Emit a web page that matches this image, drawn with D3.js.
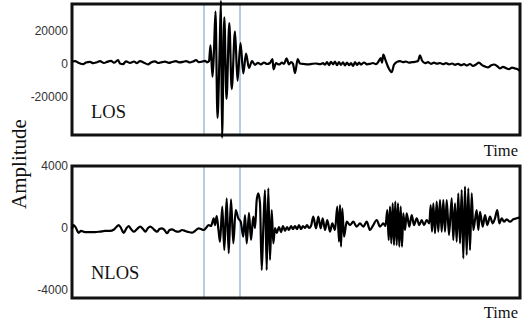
<!DOCTYPE html>
<html>
<head>
<meta charset="utf-8">
<script src="https://cdn.jsdelivr.net/npm/d3@7"></script>
<style>
  body { margin: 0; background: #fff; }
  svg { display: block; }
  .tick text { font-family: "Liberation Sans", Arial, sans-serif; font-size: 12px; fill: #333; }
  .lbl { font-family: "Liberation Serif", "Times New Roman", serif; fill: #111; }
</style>
</head>
<body>
<svg id="chart" width="522" height="323"></svg>
<script>
// time axis is sample index, amplitude in raw units
const timeRange = [0, 448];
const markerTimes = [132, 168];

const losTicks = [-20000, 0, 20000];
const nlosTicks = [-4000, 0, 4000];
const losDomain = [-43330, 36060];
const nlosDomain = [-4516, 4000];

// [time, amplitude]
const losSamples = [
  [0,1200],[3,1500],[7,300],[11,-400],[14,600],[18,1000],[21,200],[25,800],[28,1400],[32,300],
  [35,1000],[39,1600],[42,500],[46,2000],[48,0],[51,-400],[54,1300],[58,400],[62,1200],[65,200],
  [68,1500],[72,500],[76,-500],[79,600],[83,1300],[86,300],[90,800],[93,1100],[97,400],[100,900],
  [104,1400],[107,700],[111,1000],[114,1500],[118,600],[121,1200],[124,2000],[127,800],[130,1100],
  [133,1600],[135,700],[137,1500],[138.5,11000],[140.5,-8000],[142,8000],[143.5,31500],[145.5,-33000],
  [147.5,5000],[149,38000],[150,-45000],[152.3,28000],[154.5,-21500],[157.3,24500],[159.7,-15500],
  [163,19500],[165.5,-10500],[168.5,12400],[171.3,-6000],[174,6000],[177,-2700],[180,1500],[183,-800],
  [186,400],[189,-500],[192,600],[195,-300],[198,300],[200.5,2700],[201.5,-3500],[204,200],[207,-600],
  [210,500],[212,-300],[214.5,3100],[217,-500],[219,800],[221,-200],[223,-5800],[225.7,2700],[228,0],
  [232,-300],[236,-500],[240,-200],[244,0],[248,-400],[251,200],[253,-700],[255,800],[257,-1000],
  [259,1000],[261,-500],[263,1200],[265,-1000],[267,900],[269,-800],[271,700],[273,-1200],[275,600],
  [277,-1000],[279,300],[281,-1500],[283,800],[285,-900],[287,500],[289,-700],[292,600],[295,-500],
  [298,-200],[301,300],[304,-400],[306.5,1200],[308.7,3300],[310,500],[311.3,5400],[313.5,2000],
  [316,-2000],[319.7,-5300],[322,-800],[325,1000],[328,1500],[331,800],[334,1200],[337,500],[340,800],
  [343,1000],[346,1500],[348,5000],[350,1800],[353,200],[356,800],[359,-200],[362,500],[365,-100],
  [368,300],[371,-400],[374,200],[377,-500],[380,0],[383,-800],[386,-200],[389,-1000],[392,-400],
  [395,-1200],[398,-300],[401,-1500],[404,-600],[407,500],[410,-1000],[413,-1800],[416,-2300],
  [419,-1200],[422,-600],[425,-1500],[428,-3000],[431,-2000],[434,-2800],[437,-3400],[440,-2500],
  [443,-3000],[446,-3600],[448,-4500]
];

const nlosSamples = [
  [0,-65],[1.7,190],[4,0],[6.7,-320],[9,-190],[13,-260],[18,-260],[23,-260],[28,-230],[33,-190],
  [38,-190],[42,-100],[46.7,190],[49,0],[51.7,-320],[54,-65],[56.7,130],[59,-65],[61.7,-240],[65,-65],
  [68.3,85],[71,-65],[73.3,-240],[76,0],[78.3,85],[81.5,-65],[85,-240],[87.5,-65],[90,-20],[92.5,-130],
  [95,-340],[97.5,-130],[100,-85],[103,-190],[106.7,-240],[110,-130],[113.3,-190],[116.5,-260],[120,-300],
  [123,-190],[126.7,-20],[129,-65],[131.7,-130],[134,0],[136.7,190],[139,130],[141.7,625],[143,190],
  [144.7,775],[146.5,-130],[148,-885],[150.3,1375],[152.3,-1420],[154.7,1915],[156.7,-1630],[159,1850],
  [161.3,-990],[163.7,1160],[166.3,625],[168.7,405],[171.3,-560],[173,840],[174.7,-990],[177,970],
  [179,-775],[181.3,730],[183,0],[184.7,1800],[186.3,2240],[188,1610],[189.7,-2710],[191.3,0],[193,2450],
  [194.7,-2710],[196.3,2560],[198,-2060],[199.7,1160],[201.3,-990],[203,0],[204.7,-320],[207,65],
  [209,-260],[211,130],[213,-190],[215,65],[217,-130],[219,130],[221,-65],[223,130],[225,-65],[227,190],
  [229,-65],[231,130],[233,0],[235,190],[237,0],[239,130],[241.3,730],[244,-20],[246.3,730],[248.7,-20],
  [250.7,625],[253,-130],[255.3,515],[258,-240],[260.3,300],[263,-130],[265.3,1375],[267,-885],[268,1480],
  [269,-1200],[270.3,1270],[272,-560],[274.7,405],[278,190],[281.3,405],[284.7,85],[288,300],[291.3,85],
  [294.7,405],[298,-130],[301.3,190],[304.7,515],[308,85],[311.3,300],[313.5,130],[315.3,1160],
  [316.7,-775],[318,1375],[319.3,-990],[320.7,1590],[322,-1100],[323.3,1700],[324.7,-1100],[326,1590],
  [327.3,-1200],[328.7,1375],[330,-1200],[331.3,950],[333,-130],[334.7,950],[337.3,85],[339.7,840],
  [342,190],[344.7,625],[347.3,190],[349.7,515],[352,190],[354.7,515],[357.3,300],[358.7,1480],[360,-240],
  [361.3,1590],[363,-340],[364.7,1700],[366.3,-240],[368,1800],[369.7,-240],[371.3,1800],[373,-240],
  [374.7,1800],[377,-450],[379.7,1915],[381.3,-775],[383,1590],[384.7,-885],[386.3,2240],[388,-990],
  [389.7,2450],[391.3,-1955],[393,2665],[394.7,-1740],[396.3,2560],[398,-1420],[399.7,2240],[401.3,-130],
  [403,515],[404.7,1160],[406.3,-130],[408,1050],[410.7,85],[413,840],[415.3,190],[418,730],[420.7,300],
  [423,625],[425.3,1160],[427.3,300],[429.7,625],[432,405],[434.7,560],[438,405],[441.3,560],[444.7,625],
  [448,690]
];

const svg = d3.select('#chart');
const left = 72, right = 520;

const x = d3.scaleLinear().domain(timeRange).range([left, right]);

const panels = [
  { samples: losSamples, domain: losDomain, ticks: losTicks, top: 4, bottom: 135, name: 'LOS', nameY: 118, timeY: 156 },
  { samples: nlosSamples, domain: nlosDomain, ticks: nlosTicks, top: 166, bottom: 298, name: 'NLOS', nameY: 279, timeY: 318 },
];

panels.forEach(p => {
  const y = d3.scaleLinear().domain(p.domain).range([p.bottom, p.top]);
  const g = svg.append('g');

  // markers
  g.selectAll('.marker')
    .data(markerTimes)
    .enter().append('line')
    .attr('x1', d => x(d)).attr('x2', d => x(d))
    .attr('y1', p.top).attr('y2', p.bottom)
    .attr('stroke', '#6b9cc6').attr('stroke-width', 1);

  // frame
  g.append('rect')
    .attr('x', left).attr('y', p.top)
    .attr('width', right - left).attr('height', p.bottom - p.top)
    .attr('fill', 'none').attr('stroke', '#111').attr('stroke-width', 3);

  const line = d3.line()
    .x(d => x(d[0]))
    .y(d => y(d[1]))
    .curve(d3.curveMonotoneX);

  g.append('path')
    .datum(p.samples)
    .attr('d', line)
    .attr('fill', 'none')
    .attr('stroke', '#000')
    .attr('stroke-width', 2.2)
    .attr('stroke-linejoin', 'round');

  const axis = g.append('g')
    .attr('transform', `translate(${left},0)`)
    .call(d3.axisLeft(y).tickValues(p.ticks).tickSize(0).tickPadding(4).tickFormat(d => String(d)));
  axis.select('.domain').remove();

  g.append('text').attr('class', 'lbl')
    .attr('x', 91).attr('y', p.nameY)
    .attr('font-size', 18.5)
    .text(p.name);

  g.append('text').attr('class', 'lbl')
    .attr('x', 518).attr('y', p.timeY)
    .attr('text-anchor', 'end')
    .attr('font-size', 16.5)
    .text('Time');
});

svg.append('text').attr('class', 'lbl')
  .attr('transform', 'translate(26,164) rotate(-90)')
  .attr('text-anchor', 'middle')
  .attr('font-size', 21)
  .text('Amplitude');
</script>
</body>
</html>
